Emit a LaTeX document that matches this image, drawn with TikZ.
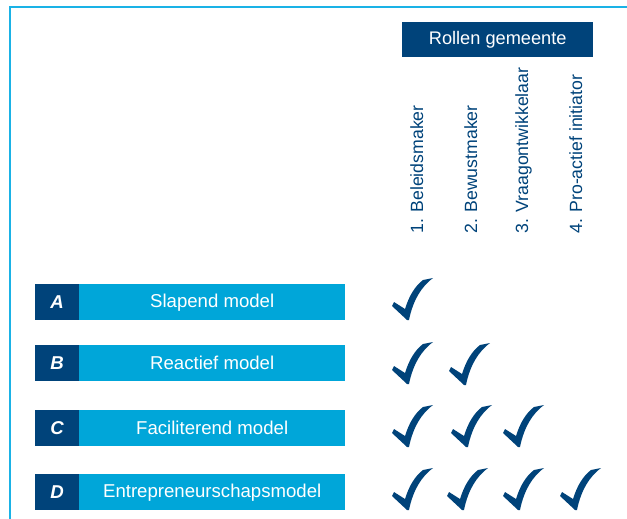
\documentclass[tikz,border=0pt]{standalone}
\usepackage{fontspec}
\setmainfont{Liberation Sans}
\definecolor{dkblue}{RGB}{0,67,122}
\definecolor{ltblue}{RGB}{0,166,217}
\definecolor{frameblue}{RGB}{26,178,230}
\begin{document}
\begin{tikzpicture}[x=1pt,y=-1pt,
  txt/.style={font=\fontsize{18.6}{21}\selectfont},
  header/.style={fill=dkblue,text=white,inner sep=0pt,minimum width=191pt,minimum height=35pt,anchor=north west,font=\fontsize{18.2}{21}\selectfont},
  letterbox/.style={fill=dkblue,text=white,inner sep=0pt,minimum width=44pt,minimum height=36pt,anchor=north west,font=\fontsize{18.6}{21}\selectfont\bfseries\itshape},
  barbox/.style={fill=ltblue,text=white,inner sep=0pt,minimum width=266pt,minimum height=36pt,anchor=north west,txt},
  rolelabel/.style={text=dkblue,inner sep=0pt,rotate=90,anchor=base west,font=\fontsize{17.7}{20}\selectfont},
  chkmark/.pic={\fill[dkblue] (0,28) -- (2,24) -- (13,31) .. controls (17,18) and (23,8) .. (31,2) -- (41,0) .. controls (30,8) and (21,22) .. (17,42) -- (15,42) -- cycle;}
]
\useasboundingbox (0,0) rectangle (627,519);
\draw[frameblue,line width=2.4pt] (10,519) -- (10,7) -- (627,7);
\node[header] (hdr) at (402,22) {Rollen gemeente};
\node[rolelabel] (r1) at (423,234) {1. Beleidsmaker};
\node[rolelabel] (r2) at (477,234) {2. Bewustmaker};
\node[rolelabel] (r3) at (528,234) {3. Vraagontwikkelaar};
\node[rolelabel] (r4) at (582,234) {4. Pro-actief initiator};
\node[letterbox] (lA) at (35,284) {A};
\node[barbox] (bA) at (79,284) {Slapend model};
\node[letterbox] (lB) at (35,345) {B};
\node[barbox] (bB) at (79,345) {Reactief model};
\node[letterbox] (lC) at (35,410) {C};
\node[barbox] (bC) at (79,410) {Faciliterend model};
\node[letterbox] (lD) at (35,474) {D};
\node[barbox] (bD) at (79,474) {Entrepreneurschapsmodel};
\pic (cA1) at (392,278) {chkmark};
\pic (cB1) at (392,342) {chkmark};
\pic (cB2) at (449,343) {chkmark};
\pic (cC1) at (392,405) {chkmark};
\pic (cC2) at (451,405) {chkmark};
\pic (cC3) at (503,405) {chkmark};
\pic (cD1) at (392,468) {chkmark};
\pic (cD2) at (447,468) {chkmark};
\pic (cD3) at (503,468) {chkmark};
\pic (cD4) at (560,468) {chkmark};
\end{tikzpicture}
\end{document}
